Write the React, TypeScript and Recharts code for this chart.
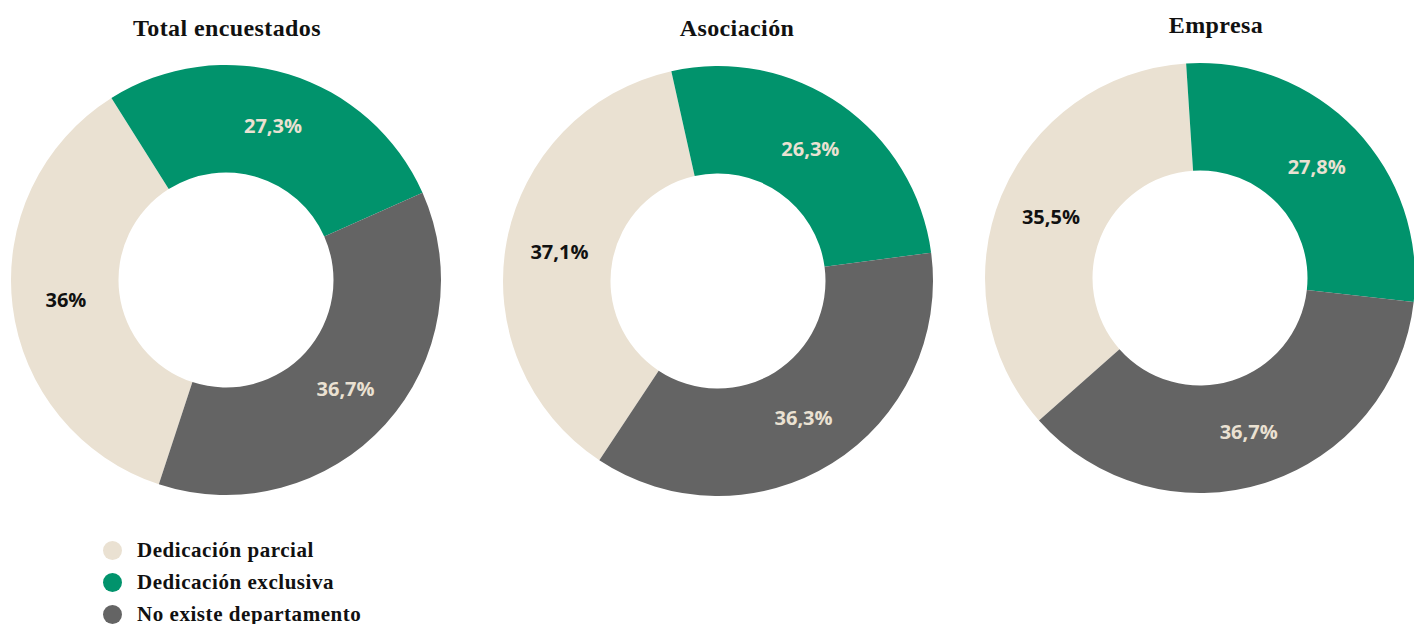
import React from 'react';
import { PieChart, Pie, Cell } from 'recharts';

const categories = ['Dedicación parcial', 'Dedicación exclusiva', 'No existe departamento'];
const groups = ['Total encuestados', 'Asociación', 'Empresa'];
const totalValues = [36, 27.3, 36.7];
const asociacionValues = [37.1, 26.3, 36.3];
const empresaValues = [35.5, 27.8, 36.7];

const COLORS = ['#EAE1D2', '#01936C', '#646464'];
const LABEL_COLORS = ['#111111', '#EAE1D2', '#EAE1D2'];
const SERIF = '"Liberation Serif", "DejaVu Serif", serif';

// layout of each donut: centre, title position and where the first slice starts
const pies = [
  { values: totalValues, cx: 226, cy: 280, startAngle: -108.2, titleX: 227, titleY: 28 },
  { values: asociacionValues, cx: 718, cy: 281, startAngle: -123.5, titleX: 737, titleY: 28 },
  { values: empresaValues, cx: 1200, cy: 278, startAngle: -138.5, titleX: 1216, titleY: 25 },
];

const RADIAN = Math.PI / 180;

const fmt = (v: number) => String(v).replace('.', ',') + '%';

const renderLabel = (props: any) => {
  const { cx, cy, midAngle, innerRadius, outerRadius, index, value } = props;
  const r = (innerRadius + outerRadius) / 2;
  const x = cx + r * Math.cos(-midAngle * RADIAN);
  const y = cy + r * Math.sin(-midAngle * RADIAN);
  return (
    <text
      x={x}
      y={y}
      fill={LABEL_COLORS[index]}
      textAnchor="middle"
      dominantBaseline="central"
      style={{ fontFamily: '"Open Sans", sans-serif', fontWeight: 700, fontSize: 20 }}
    >
      {fmt(value)}
    </text>
  );
};

export default function App() {
  return (
    <div style={{ position: 'absolute', left: 0, top: 0, width: 1414, height: 624, background: '#fff', overflow: 'hidden' }}>
      <PieChart width={1414} height={624} margin={{ top: 0, right: 0, bottom: 0, left: 0 }}>
        {pies.map((p, i) => (
          <Pie
            key={groups[i]}
            data={p.values.map((v, j) => ({ name: categories[j], value: v }))}
            dataKey="value"
            nameKey="name"
            cx={p.cx}
            cy={p.cy}
            innerRadius={107.5}
            outerRadius={215}
            startAngle={p.startAngle}
            endAngle={p.startAngle - 360}
            stroke="none"
            label={renderLabel}
            labelLine={false}
            isAnimationActive={false}
          >
            {p.values.map((_, j) => (
              <Cell key={j} fill={COLORS[j]} />
            ))}
          </Pie>
        ))}
      </PieChart>

      {pies.map((p, i) => (
        <div
          key={groups[i]}
          style={{
            position: 'absolute',
            left: p.titleX,
            top: p.titleY,
            transform: 'translate(-50%, -50%)',
            fontFamily: SERIF,
            fontWeight: 700,
            fontSize: 24,
            letterSpacing: 0.4,
            color: '#111',
            whiteSpace: 'nowrap',
          }}
        >
          {groups[i]}
        </div>
      ))}

      <div style={{ position: 'absolute', left: 103, top: 534 }}>
        {categories.map((c, i) => (
          <div key={c} style={{ display: 'flex', alignItems: 'center', height: 32 }}>
            <span style={{ width: 19, height: 19, borderRadius: '50%', background: COLORS[i], display: 'inline-block', marginRight: 15 }} />
            <span style={{ fontFamily: SERIF, fontWeight: 700, fontSize: 21, color: '#111', letterSpacing: 0.55 }}>{c}</span>
          </div>
        ))}
      </div>
    </div>
  );
}
